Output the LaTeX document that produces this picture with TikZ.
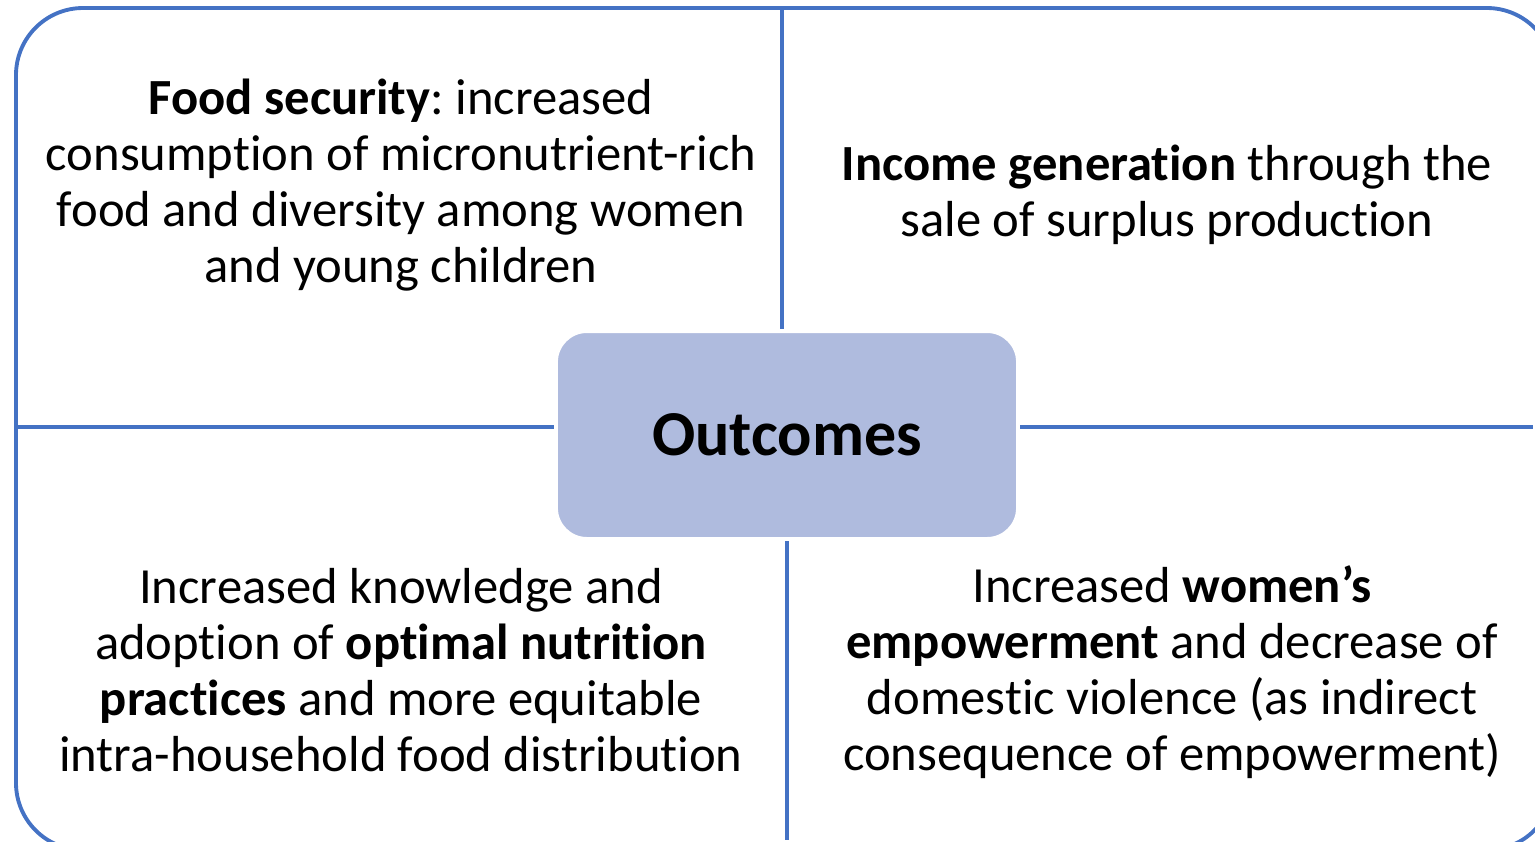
\documentclass[tikz,border=0pt]{standalone}
\usepackage{fontspec}
\setmainfont[Ligatures=NoCommon]{Carlito}
\frenchspacing
\definecolor{frameblue}{RGB}{68,114,196}
\definecolor{boxfill}{RGB}{175,187,222}

\tikzset{
  divider/.style={frameblue, line width=1pt, shorten <=0.6pt, shorten >=0.6pt},
  quarter/.style={align=center, font=\fontsize{14.4}{15.9}\selectfont},
}

\begin{document}
\begin{tikzpicture}[x=0.01cm, y=-0.01cm]
  \useasboundingbox (0,0) rectangle (1535,842);
  \clip (0,0) rectangle (1535,842);
  % outer frame, runs past the right and bottom edges
  \draw[frameblue, line width=1.1pt, rounded corners=0.67cm] (16,8) rectangle (1554,850);

  % centre box
  \node[draw=white, line width=0.6pt, fill=boxfill, rounded corners=0.3cm,
        minimum width=4.6cm, minimum height=2.06cm,
        font=\fontsize{18.2}{22}\selectfont\bfseries] (outcomes) at (787,435) {Outcomes};

  % dividers
  \coordinate (topend) at (782,8);
  \coordinate (botend) at (787,842);
  \coordinate (leftend) at (16,427);
  \coordinate (rightend) at (1535,427);
  \draw[divider] (topend) -- (topend |- outcomes.north);
  \draw[divider] (outcomes.south) -- (botend);
  \draw[divider] (leftend) -- (leftend -| outcomes.west);
  \draw[divider] (rightend -| outcomes.east) -- (rightend);

  % the four quarters
  \node[quarter] (food) at (401,185)
    {\textbf{Food security}: increased\\consumption of micronutrient-rich\\food and diversity among women\\and young children};
  \node[quarter] (income) at (1167,195)
    {\textbf{Income generation} through the\\sale of surplus production};
  \node[quarter] (practices) at (401,670)
    {Increased knowledge and\\adoption of \textbf{optimal nutrition}\\\textbf{practices} and more equitable\\intra-household food distribution};
  \node[quarter] (empower) at (1172,672)
    {Increased \textbf{women’s}\\\textbf{empowerment} and decrease of\\domestic violence (as indirect\\consequence of empowerment)};
\end{tikzpicture}
\end{document}
